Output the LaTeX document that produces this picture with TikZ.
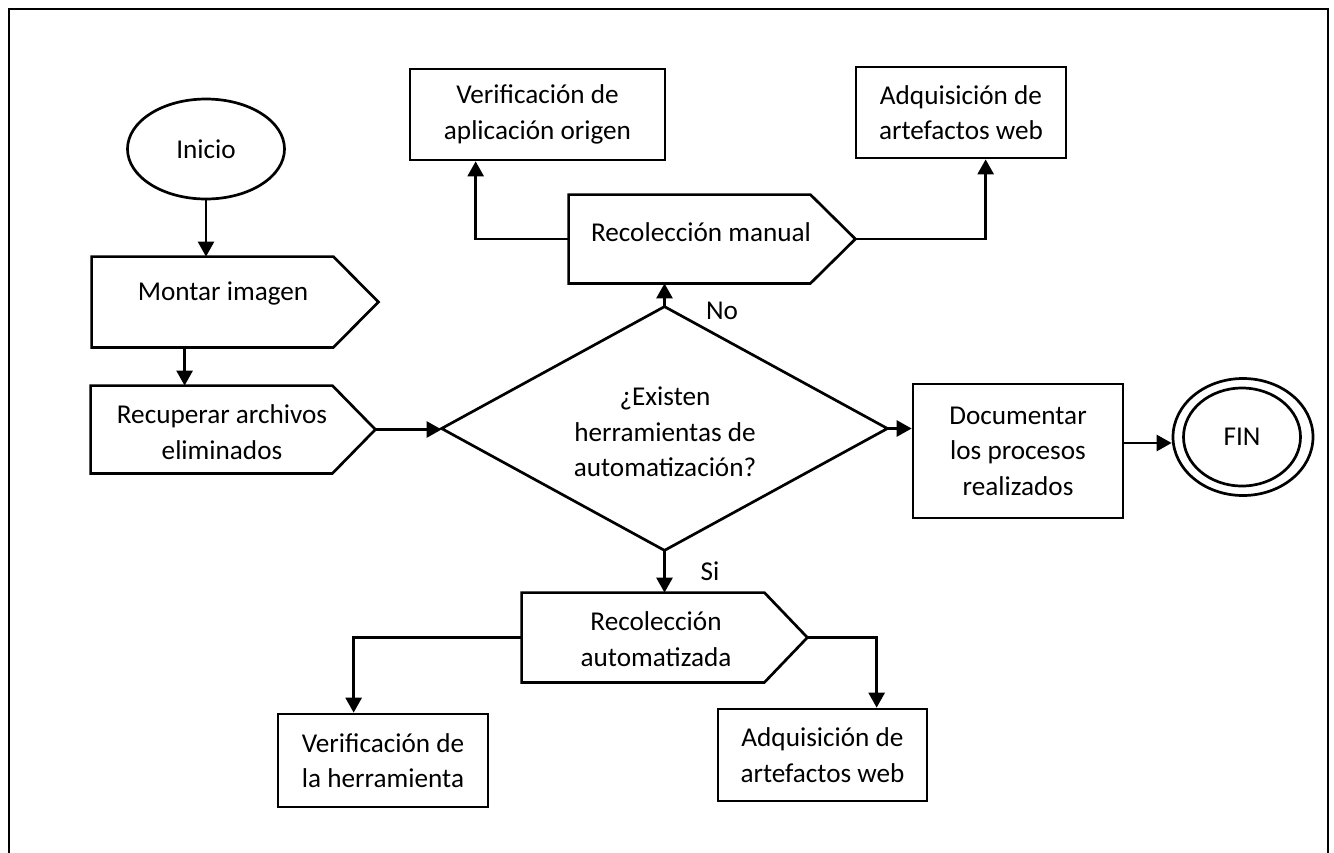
\documentclass[tikz,border=0pt]{standalone}
\usepackage{fontspec}
\setmainfont{Carlito}
\usetikzlibrary{arrows.meta,calc,fit,shapes.geometric}
\newcommand\pentagonshape[2]{\draw[boxline] (#1.north west) -- ($(#1.north east)+(-#2,0)$) -- (#1.east) -- ($(#1.south east)+(-#2,0)$) -- (#1.south west) -- cycle;}
\begin{document}
\begin{tikzpicture}[x=0.5pt,y=-0.5pt,
  every node/.style={font=\fontsize{13.6}{17.75}\selectfont},
  lbl/.style={align=center, inner sep=0},
  area/.style={inner sep=0, draw=none},
  boxline/.style={draw, line width=1.35pt},
  procbox/.style={boxline, rectangle, align=center, inner sep=0},
  arr/.style={line width=1.35pt, -{Triangle[length=7.5pt,width=8pt]}},
  frameline/.style={line width=1.35pt}]
\useasboundingbox (0,0) rectangle (1334,852);
\draw[frameline] (9,860) -- (9,9) -- (1328,9) -- (1328,860);

% start
\node[boxline, ellipse, minimum width=78.5pt, minimum height=50pt, inner sep=0] (ini) at (206,149) {Inicio};

% pentagon areas
\node[area, fit={(92,257) (378,347)}] (mi) {};
\node[area, fit={(91,386) (375,473)}] (rec) {};
\node[area, fit={(569,195) (855,283)}] (rm) {};
\node[area, fit={(522,593) (807,682)}] (ra) {};
\pentagonshape{mi}{45}
\pentagonshape{rec}{43}
\pentagonshape{rm}{45}
\pentagonshape{ra}{43}
\node[lbl] (mi-t) at (223,293) {Montar imagen};
\node[lbl] (rec-t) at (222,432) {Recuperar archivos\\eliminados};
\node[lbl] (rm-t) at (701,232) {Recolección manual};
\node[lbl] (ra-t) at (656,639) {Recolección\\automatizada};

% decision
\node[area, fit={(442,307) (887,550)}] (dia) {};
\draw[boxline] (dia.west) -- (dia.north) -- (dia.east) -- (dia.south) -- cycle;
\node[lbl] (dia-t) at (665,432) {¿Existen\\herramientas de\\automatización?};

% boxes
\node[procbox, minimum width=127.5pt, minimum height=45.5pt] (vap) at (537.5,114.5) {Verificación de\\aplicación origen};
\node[procbox, minimum width=105pt, minimum height=45.5pt] (awt1) at (961,112.5) {Adquisición de\\artefactos web};
\node[procbox, minimum width=105pt, minimum height=67pt] (doc) at (1018,451) {Documentar\\los procesos\\realizados};
\node[procbox, minimum width=105pt, minimum height=46.5pt] (vh) at (383,760.5) {Verificación de\\la herramienta};
\node[procbox, minimum width=104.5pt, minimum height=46pt] (awt2) at (822.5,755) {Adquisición de\\artefactos web};

% end
\node[boxline, ellipse, minimum width=70pt, minimum height=58.5pt, inner sep=0] (fin) at (1243,437) {};
\node[boxline, ellipse, minimum width=58.5pt, minimum height=49pt, inner sep=0] (fin-in) at (1242,437) {FIN};

% labels
\node[lbl] (no) at (722,311) {No};
\node[lbl] (si) at (710,571) {Si};

% connectors
\draw[arr] (ini.south) -- (ini.south |- mi.north);
\coordinate (m1) at ($(mi.south west)+(93,0)$);
\draw[arr] (m1) -- (m1 |- rec.north);
\draw[arr] (rec.east) -- (rec.east -| dia.west);
\draw[arr] (dia.north) -- (dia.north |- rm.south);
\draw[arr] (rm.west) -| ($(vap.south west)+(67,0)$);
\draw[arr] (rm.east) -| ($(awt1.south west)+(131,0)$);
\draw[arr] (dia.east) -- (dia.east -| doc.west);
\coordinate (d1) at ($(doc.east)+(0,-8)$);
\draw[arr] (d1) -- (d1 -| fin.west);
\draw[arr] (dia.south) -- (dia.south |- ra.north);
\draw[arr] (ra.west) -| ($(vh.north west)+(77,0)$);
\draw[arr] (ra.east) -| ($(awt2.north west)+(160,0)$);
\end{tikzpicture}
\end{document}
